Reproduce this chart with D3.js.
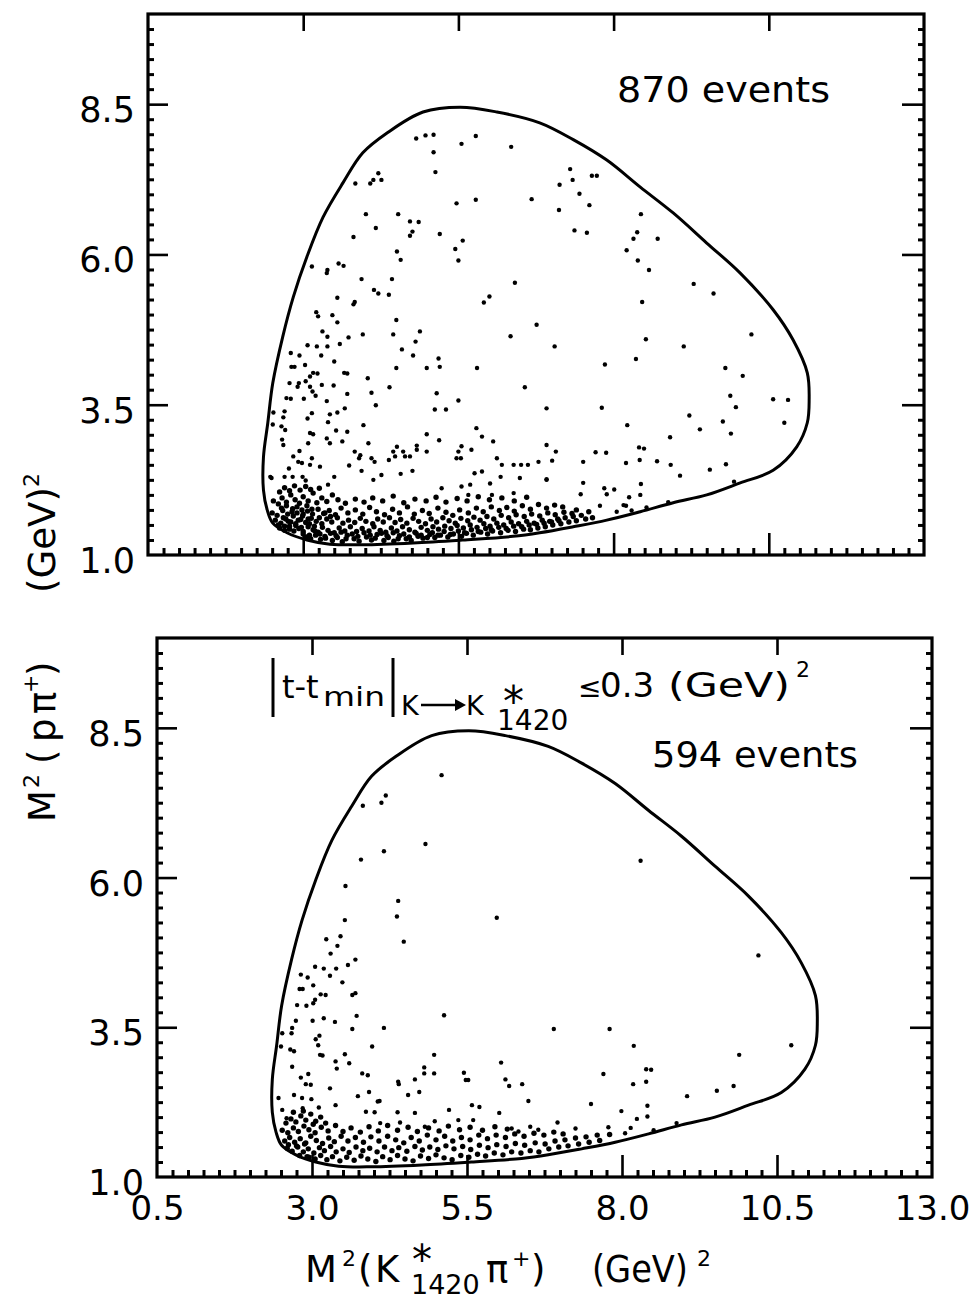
<!DOCTYPE html>
<html>
<head>
<meta charset="utf-8">
<script src="https://cdn.jsdelivr.net/npm/d3@7"></script>
<style>
  body { margin: 0; background: #fff; }
  svg { display: block; }
  text { font-family: "DejaVu Sans", sans-serif; fill: #000; }
</style>
</head>
<body>
<svg id="chart" width="971" height="1299"></svg>
<script>
// Axis ranges and tick labels (GeV^2)
const xDomain = [0.5, 13];
const yDomain = [1, 10];
const xMajorTicks = [3.0, 5.5, 8.0, 10.5];
const yMajorTicks = [3.5, 6.0, 8.5];
const xTickValues = [0.5, 3.0, 5.5, 8.0, 10.5, 13.0];
const xTickLabels = ["0.5", "3.0", "5.5", "8.0", "10.5", "13.0"];
const yTickValues = [1.0, 3.5, 6.0, 8.5];
const yTickLabels = ["1.0", "3.5", "6.0", "8.5"];

// Kinematic boundary of the Dalitz plot: [M2(K*pi+), M2(p pi+)]
const boundary = [
  [5.53,8.45],[4.93,8.37],[4.35,8.02],[3.96,7.69],[3.64,7.19],[3.32,6.62],[3.06,5.96],[2.84,5.29],
  [2.67,4.63],[2.51,3.86],[2.43,3.20],[2.36,2.63],[2.36,2.08],[2.42,1.75],[2.51,1.53],[2.74,1.37],
  [3.06,1.25],[3.43,1.18],[3.96,1.17],[4.77,1.20],[5.57,1.25],[6.38,1.31],[6.81,1.37],[7.35,1.47],
  [7.89,1.58],[8.43,1.72],[8.96,1.87],[9.50,2.00],[10.04,2.20],[10.57,2.41],[10.95,2.80],[11.12,3.20],
  [11.15,3.58],[11.12,4.03],[10.89,4.58],[10.57,5.08],[10.04,5.69],[9.50,6.19],[8.96,6.69],[8.43,7.12],
  [7.89,7.57],[7.35,7.91],[6.81,8.19],[6.12,8.37]
];

// All events: isolated points
const topSparse = [
  [4.82,7.93],[4.97,7.98],[5.10,7.99],[5.78,7.97],[5.10,7.70],[5.55,7.84],[6.35,7.79],[5.13,7.37],[4.21,7.35],[4.13,7.24],
  [4.26,7.24],[4.08,7.18],[3.84,7.18],[6.68,6.92],[5.78,6.91],[5.47,6.85],[4.01,6.67],[4.53,6.67],[4.72,6.55],[4.86,6.54],
  [4.17,6.44],[4.76,6.38],[4.72,6.31],[5.20,6.34],[5.57,6.23],[3.81,6.29],[5.45,6.09],[4.51,6.05],[4.57,5.91],[5.50,5.90],
  [6.41,5.53],[3.57,5.85],[3.65,5.81],[3.14,5.80],[3.39,5.74],[3.38,5.69],[3.94,5.59],[4.43,5.59],[4.14,5.41],[4.21,5.35],
  [4.38,5.33],[3.55,5.28],[3.83,5.21],[3.81,5.17],[6.00,5.30],[5.91,5.20],[3.21,5.04],[3.24,4.97],[3.47,4.99],[3.55,4.87],
  [4.50,4.91],[6.76,4.83],[3.31,4.72],[3.96,4.67],[4.45,4.67],[4.88,4.72],[3.39,4.63],[3.73,4.62],[6.34,4.64],[4.81,4.55],
  [3.07,4.49],[3.22,4.47],[3.39,4.47],[3.59,4.51],[4.59,4.42],[4.77,4.32],[2.80,4.36],[2.94,4.32],[3.29,4.32],[3.50,4.22],
  [5.18,4.27],[2.81,4.13],[2.86,4.13],[3.03,4.16],[5.20,4.13],[4.50,4.11],[4.99,4.11],[5.80,4.11],[3.16,4.03],[3.23,4.02],
  [3.11,3.97],[3.66,4.03],[3.71,4.02],[3.04,3.89],[4.04,3.94],[2.78,3.86],[2.93,3.86],[2.91,3.80],[3.11,3.80],[3.15,3.72],
  [3.30,3.83],[3.49,3.82],[4.39,3.79],[6.57,3.79],[2.80,3.60],[2.73,3.61],[3.01,3.60],[3.20,3.65],[3.38,3.56],[3.71,3.68],
  [4.10,3.70],[5.15,3.69],[5.50,3.57],[4.17,3.49],[3.67,3.44],[2.70,3.39],[2.52,3.37],[3.14,3.36],[3.43,3.34],[3.55,3.37],
  [5.12,3.42],[5.30,3.42],[6.92,3.44],[2.68,3.29],[3.07,3.27],[3.40,3.21],[3.97,3.16],[2.51,3.17],[2.65,3.14],[2.71,3.08],
  [3.11,3.03],[3.16,3.01],[3.53,3.07],[3.71,3.05],[5.79,3.11],[5.88,2.97],[4.99,3.01],[2.66,2.92],[3.08,2.86],[3.38,2.94],
  [3.43,2.86],[3.63,2.89],[4.05,2.86],[4.83,2.82],[5.19,2.91],[6.06,2.89],[6.92,2.83],[5.55,2.81],[2.68,2.83],[2.94,2.73],
  [2.84,2.64],[3.83,2.72],[3.92,2.66],[4.51,2.80],[4.45,2.72],[4.61,2.72],[4.83,2.75],[4.99,2.72],[5.71,2.75],[5.50,2.72],
  [5.47,2.61],[5.54,2.61],[6.12,2.61],[4.38,2.58],[4.48,2.64],[4.64,2.64],[4.72,2.64],[3.90,2.61],[4.10,2.61],[4.15,2.55],
  [3.14,2.61],[2.92,2.55],[2.98,2.53],[3.11,2.50],[3.27,2.47],[2.77,2.44],[3.74,2.49],[6.39,2.50],[6.51,2.50],[6.62,2.50],
  [6.79,2.55],[6.20,2.50],[5.88,2.39],[2.47,2.30],[2.49,2.28],[2.70,2.30],[2.83,2.30],[2.99,2.30],[3.04,2.24],[3.50,2.30],
  [3.94,2.40],[4.13,2.25],[4.26,2.33],[4.57,2.35],[4.76,2.40],[5.76,2.36],[6.18,2.30],[6.49,2.28],[6.92,2.25],[3.40,2.17],
  [5.23,2.11],[5.55,2.14],[5.69,2.17],[6.01,2.19],[6.39,2.03],[6.04,2.00],[5.66,2.00],
  [7.30,7.42],[7.34,7.24],[7.65,7.31],[7.73,7.31],[7.13,7.16],[7.45,7.01],[7.61,6.82],[7.12,6.74],[8.44,6.67],[7.37,6.40],
  [7.57,6.36],[8.38,6.37],[8.32,6.26],[8.71,6.26],[8.21,6.07],[8.39,5.90],[8.57,5.74],[9.29,5.51],[9.61,5.35],[8.46,5.21],
  [10.22,4.67],[8.52,4.59],[7.05,4.47],[9.13,4.47],[8.36,4.26],[7.86,4.17],[9.80,4.11],[10.08,3.98],[9.88,3.65],[9.97,3.46],
  [10.57,3.59],[10.81,3.58],[7.81,3.45],[9.22,3.32],[9.76,3.22],[10.75,3.20],[8.22,3.16],[9.39,3.09],[9.89,3.02],[8.91,2.96],
  [8.41,2.79],[8.49,2.77],[7.07,2.72],[7.71,2.71],[7.88,2.70],[7.01,2.57],[7.51,2.55],[8.20,2.53],[8.42,2.58],[8.70,2.56],
  [8.92,2.50],[9.55,2.42],[9.81,2.51],[9.07,2.32],[6.92,2.26],[7.51,2.20],[8.44,2.18],[7.85,2.11],[8.01,2.09],[7.47,2.01],
  [7.89,2.01],[8.43,2.00],[8.25,1.96],[9.94,2.22],[8.88,1.88],[8.53,1.79],[8.16,1.83],[8.20,1.82],[7.78,1.82],[8.05,1.72],
  [8.29,1.74]
];

// All events: crowded band at low M2(p pi+)
const topDense = [
  [3.05,1.30],[3.12,1.27],[3.20,1.33],[3.28,1.26],[3.35,1.31],[3.47,1.24],[3.55,1.29],[3.63,1.22],[3.71,1.33],[3.82,1.27],
  [3.90,1.23],[4.02,1.30],[4.10,1.25],[4.19,1.34],[4.30,1.24],[4.37,1.29],[4.46,1.23],[4.55,1.32],[4.66,1.27],[4.74,1.24],
  [4.85,1.31],[4.93,1.28],[5.04,1.34],[5.12,1.29],[5.21,1.33],[5.33,1.30],[5.42,1.35],[5.55,1.31],[5.63,1.36],[5.74,1.33],
  [5.86,1.38],[5.97,1.35],[6.05,1.40],[6.18,1.37],[6.30,1.41],[6.42,1.39],[6.55,1.43],[6.66,1.42],[6.78,1.45],[6.90,1.47],
  [7.02,1.50],[7.15,1.52],[7.28,1.55],[7.40,1.57],[7.55,1.60],[7.66,1.62],
  [2.62,1.45],[2.70,1.41],[2.78,1.48],[2.85,1.40],[2.93,1.44],[3.00,1.39],[3.08,1.47],[3.16,1.42],[3.24,1.38],[3.31,1.46],
  [3.40,1.41],[3.50,1.37],[3.58,1.45],[3.67,1.40],[3.76,1.47],[3.86,1.39],[3.95,1.44],[4.06,1.40],[4.14,1.47],[4.24,1.41],
  [4.33,1.38],[4.42,1.45],[4.51,1.40],[4.60,1.47],[4.71,1.42],[4.80,1.38],[4.90,1.46],[5.00,1.41],[5.09,1.47],[5.18,1.43],
  [5.28,1.48],[5.38,1.44],[5.48,1.49],[5.58,1.45],[5.69,1.50],[5.80,1.46],[5.91,1.52],[6.01,1.48],[6.12,1.53],[6.23,1.50],
  [6.35,1.55],[6.47,1.52],[6.60,1.56],[6.72,1.53],[6.85,1.58],[6.97,1.56],[7.10,1.60],[7.22,1.62],[7.35,1.64],[7.48,1.66],
  [2.55,1.58],[2.64,1.53],[2.72,1.60],[2.80,1.55],[2.88,1.52],[2.96,1.59],[3.04,1.54],[3.13,1.61],[3.21,1.56],[3.30,1.52],
  [3.38,1.60],[3.46,1.55],[3.55,1.62],[3.64,1.53],[3.73,1.58],[3.83,1.54],[3.92,1.61],[4.01,1.56],[4.12,1.52],[4.20,1.60],
  [4.29,1.55],[4.39,1.62],[4.48,1.54],[4.57,1.59],[4.67,1.53],[4.77,1.61],[4.86,1.56],[4.97,1.52],[5.06,1.60],[5.15,1.55],
  [5.25,1.62],[5.35,1.57],[5.45,1.53],[5.54,1.61],[5.65,1.57],[5.75,1.63],[5.85,1.58],[5.96,1.64],[6.07,1.60],[6.19,1.66],
  [6.31,1.62],[6.43,1.67],[6.56,1.64],[6.68,1.68],[6.81,1.65],[6.94,1.70],[7.06,1.67],[7.20,1.71],[7.33,1.69],
  [2.50,1.70],[2.58,1.66],[2.67,1.74],[2.75,1.68],[2.83,1.77],[2.90,1.70],[2.99,1.65],[3.07,1.73],[3.15,1.68],[3.24,1.76],
  [3.33,1.69],[3.42,1.74],[3.52,1.67],[3.61,1.78],[3.72,1.70],[3.84,1.75],[3.96,1.68],[4.07,1.79],[4.18,1.72],[4.31,1.67],
  [4.44,1.76],[4.55,1.70],[4.68,1.80],[4.79,1.68],[4.92,1.74],[5.03,1.69],[5.17,1.78],[5.30,1.71],[5.41,1.66],[5.52,1.75],
  [5.66,1.70],[5.79,1.78],[5.90,1.72],[6.03,1.80],[6.16,1.74],[6.28,1.79],[6.40,1.73],[6.53,1.82],[6.66,1.76],[6.79,1.84],
  [6.92,1.78],[7.05,1.83],[7.18,1.80],[7.40,1.75],[7.60,1.72],
  [2.52,1.90],[2.60,1.85],[2.66,1.95],[2.73,1.88],[2.80,2.00],[2.87,1.92],[2.94,1.86],[3.00,1.97],[3.08,1.90],[3.16,2.03],
  [3.22,1.87],[3.30,1.95],[3.38,1.89],[3.47,2.00],[3.56,1.92],[3.68,1.86],[2.62,2.05],[2.70,2.12],[2.78,2.07],[2.86,2.15],
  [2.95,2.08],[3.04,2.14],[3.12,2.09],[3.26,2.11],[3.84,1.93],[3.98,1.88],[4.12,1.95],[4.28,1.90],[4.45,1.98],[4.62,1.87],
  [4.80,1.93],[4.98,1.90],[5.14,1.96],[5.30,1.88],[5.48,1.94],[5.64,1.90],[5.82,1.97],[6.00,1.92],[6.20,1.95],[6.40,1.90],
  [6.60,1.96],
  [2.60,1.50],[2.68,1.62],[2.76,1.56],[2.84,1.65],[2.92,1.58],[3.00,1.68],[3.08,1.60],[2.65,1.78],[2.73,1.82],[2.82,1.72],
  [2.90,1.80],[2.98,1.75],[3.06,1.82],[3.14,1.76],[2.70,1.48],[2.78,1.43],[2.88,1.49],[2.97,1.46],[3.10,1.52],[3.18,1.48],
  [3.26,1.62],[3.35,1.70],[3.44,1.64],
  [3.00,1.35],[3.10,1.33],[3.19,1.40],[3.27,1.35],[3.36,1.28],[3.44,1.36],[3.53,1.32],[3.61,1.38],[3.69,1.27],[3.79,1.35],
  [3.88,1.31],[3.98,1.37],[4.08,1.33],[4.16,1.28],[4.26,1.36],[4.35,1.32],[4.45,1.37],[4.53,1.27],[4.62,1.35],[4.71,1.30],
  [4.82,1.36],[4.90,1.33],[5.00,1.29],[5.08,1.37],[5.17,1.33],[5.27,1.39],[5.37,1.34],[5.50,1.40],[5.60,1.37],[5.71,1.42],
  [5.82,1.39],[5.94,1.44],[6.03,1.42],[6.15,1.46],[6.27,1.44],[6.39,1.48],[6.52,1.47],[6.64,1.50],[6.76,1.51],[6.88,1.53],
  [7.00,1.55],[7.12,1.57]
];

// |t - tmin| <= 0.3 selection: isolated points
const bottomSparse = [
  [5.09,7.71],[3.82,7.20],[4.12,7.25],[4.19,7.37],[4.83,6.56],[4.16,6.44],[3.79,6.30],[3.54,5.86],[4.39,5.61],[4.37,5.35],
  [3.53,5.29],[5.98,5.33],[4.48,4.93],[3.23,4.97],[3.46,5.02],[3.41,4.86],[3.30,4.73],[3.70,4.63],[3.58,4.54],[3.05,4.51],
  [3.19,4.48],[3.39,4.48],[2.82,4.38],[3.29,4.36],[2.93,4.33],[3.49,4.25],[3.02,4.20],[2.80,4.14],[2.85,4.14],[3.14,4.05],
  [3.22,4.04],[3.65,4.04],[3.70,4.07],[3.05,3.96],[3.02,3.90],[2.76,3.87],[2.91,3.86],[3.72,3.69],[5.13,3.70],[2.74,3.61],
  [3.01,3.61],[3.19,3.65],[3.37,3.59],[2.68,3.49],[3.65,3.47],[4.16,3.49],[2.52,3.40],[2.67,3.40],[3.12,3.36],[3.06,3.30],
  [3.10,3.20],[2.50,3.18],[3.97,3.18],[2.65,3.13],[2.71,3.10],[3.13,3.04],[3.17,3.03],[3.53,3.05],[4.97,3.04],[3.38,2.93],
  [3.60,2.90],[6.05,2.91],[2.68,2.84],[3.40,2.81],[4.81,2.83],[3.81,2.73],[3.90,2.70],[4.81,2.73],[4.97,2.73],[5.45,2.74],
  [2.82,2.66],[2.94,2.72],[5.48,2.62],[5.52,2.62],[6.12,2.63],[4.66,2.63],[4.39,2.59],[4.40,2.55],[6.18,2.52],[6.39,2.55],
  [2.90,2.55],[2.98,2.54],[3.29,2.48],[3.92,2.42],[4.73,2.42],[2.46,2.32],[2.71,2.37],[2.84,2.32],[2.99,2.30],[3.74,2.35],
  [4.55,2.37],[4.06,2.26],[4.09,2.27],[6.49,2.27],[3.38,2.20],[5.58,2.20],[5.70,2.17],[2.52,2.12],[2.85,2.15],[3.11,2.16],
  [5.21,2.12],[3.87,2.09],[4.01,2.08],[4.38,2.08],[4.66,2.07],[6.02,2.07],[2.59,1.98],[5.60,1.95],[4.98,1.93],[5.36,1.95],
  [4.42,1.91],[4.10,1.90],[4.82,1.84],[6.52,1.84],[6.33,1.76],[6.22,1.81],[6.65,1.79],
  [8.30,6.28],[10.20,4.70],[6.90,3.47],[7.80,3.47],[8.19,3.19],[10.73,3.20],[9.89,3.04],[8.39,2.80],[8.47,2.79],[7.70,2.72],
  [8.39,2.59],[8.18,2.55],[9.80,2.52],[9.53,2.44],[9.05,2.35],[7.50,2.22],[8.41,2.19],[7.99,2.10],[8.41,2.01],[8.24,1.97],
  [8.88,1.90],[6.96,1.91],[7.78,1.83],[7.25,1.81],[8.51,1.78],[8.14,1.82],[8.05,1.73]
];

// |t - tmin| <= 0.3 selection: crowded band
const bottomDense = [
  [2.95,1.33],[3.05,1.30],[3.14,1.36],[3.24,1.29],[3.33,1.34],[3.45,1.27],[3.56,1.33],[3.68,1.28],[3.79,1.35],[3.90,1.30],
  [4.03,1.26],[4.14,1.34],[4.26,1.29],[4.38,1.36],[4.50,1.30],[4.63,1.27],[4.75,1.35],[4.88,1.31],[5.00,1.37],[5.13,1.32],
  [5.26,1.29],[5.40,1.36],[5.53,1.33],[5.67,1.38],[5.80,1.35],[5.94,1.40],[6.08,1.37],[6.22,1.42],[6.37,1.40],[6.52,1.44],
  [6.66,1.42],[6.82,1.47],[6.98,1.50],[7.13,1.52],[7.30,1.55],[7.47,1.58],[7.64,1.61],
  [2.60,1.48],[2.68,1.43],[2.77,1.50],[2.86,1.42],[2.94,1.47],[3.03,1.40],[3.12,1.49],[3.20,1.44],[3.30,1.51],[3.39,1.42],
  [3.50,1.47],[3.60,1.41],[3.71,1.50],[3.82,1.44],[3.93,1.48],[4.05,1.42],[4.17,1.50],[4.29,1.44],[4.40,1.49],[4.53,1.43],
  [4.66,1.51],[4.78,1.45],[4.90,1.50],[5.03,1.46],[5.16,1.52],[5.29,1.47],[5.43,1.51],[5.56,1.46],[5.70,1.53],[5.84,1.49],
  [5.98,1.54],[6.13,1.51],[6.28,1.56],[6.43,1.53],[6.60,1.57],[6.76,1.55],[6.92,1.60],[7.08,1.62],[7.25,1.65],[7.42,1.67],
  [7.60,1.70],[7.80,1.71],
  [2.56,1.60],[2.64,1.66],[2.72,1.58],[2.81,1.64],[2.90,1.57],[2.98,1.68],[3.07,1.61],[3.17,1.56],[3.27,1.65],[3.36,1.59],
  [3.47,1.68],[3.58,1.60],[3.70,1.66],[3.83,1.58],[3.95,1.67],[4.08,1.60],[4.22,1.68],[4.35,1.62],[4.48,1.57],[4.60,1.66],
  [4.73,1.60],[4.86,1.70],[5.00,1.62],[5.14,1.68],[5.27,1.60],[5.41,1.66],[5.55,1.62],[5.69,1.70],[5.83,1.64],[5.97,1.70],
  [6.12,1.66],[6.27,1.72],[6.42,1.68],[6.58,1.73],[6.74,1.70],[6.90,1.75],[7.05,1.72],
  [2.52,1.78],[2.61,1.74],[2.70,1.82],[2.78,1.76],[2.87,1.85],[2.95,1.79],[3.05,1.74],[3.15,1.83],[3.26,1.77],[3.38,1.86],
  [3.50,1.76],[3.63,1.82],[3.78,1.75],[3.92,1.84],[4.07,1.77],[4.22,1.86],[4.38,1.78],[4.55,1.83],[4.70,1.76],[4.88,1.82],
  [5.05,1.77],[5.20,1.85],[5.38,1.79],[5.55,1.83],[5.75,1.78],[5.95,1.84],[6.15,1.80],
  [2.58,1.90],[2.66,1.97],[2.74,1.92],[2.82,2.02],[2.90,1.95],[2.98,2.05],[3.06,1.93],[3.14,2.00],[3.22,1.90],[2.70,2.08],
  [2.86,2.10],[3.02,1.88],[2.62,1.54],[2.75,1.52],[2.88,1.55],[2.80,1.36],[2.92,1.34]
];

const panels = [
  { left: 148, right: 924, top: 14, bottom: 555,
    sparse: topSparse, dense: topDense, count: "870 events", countX: 617, countY: 102, countW: 213, xLabels: false },
  { left: 157, right: 932, top: 638, bottom: 1177,
    sparse: bottomSparse, dense: bottomDense, count: "594 events", countX: 652, countY: 767, countW: 206, xLabels: true }
];

const svg = d3.select("#chart");
svg.append("rect").attr("width", 971).attr("height", 1299).attr("fill", "#fff");

const xMinor = d3.range(3, 52).map(i => i * 0.25).filter(v => !xMajorTicks.includes(v));
const yMinor = d3.range(5, 40).map(i => i * 0.25).filter(v => !yMajorTicks.includes(v));

function tickAxis(g, axis, width) {
  g.call(axis);
  g.select(".domain").remove();
  g.selectAll(".tick line").attr("stroke", "#000").attr("stroke-width", width);
  g.selectAll(".tick text").remove();
}

panels.forEach(p => {
  const x = d3.scaleLinear().domain(xDomain).range([p.left, p.right]);
  const y = d3.scaleLinear().domain(yDomain).range([p.bottom, p.top]);
  const g = svg.append("g");

  // frame
  g.append("rect")
    .attr("x", p.left).attr("y", p.top)
    .attr("width", p.right - p.left).attr("height", p.bottom - p.top)
    .attr("fill", "none").attr("stroke", "#000").attr("stroke-width", 3.2);

  // inward ticks on all four sides
  tickAxis(g.append("g").attr("transform", `translate(0,${p.bottom})`),
    d3.axisBottom(x).tickValues(xMinor).tickSize(-7).tickFormat(""), 3);
  tickAxis(g.append("g").attr("transform", `translate(0,${p.bottom})`),
    d3.axisBottom(x).tickValues(xMajorTicks).tickSize(-22).tickFormat(""), 2.6);
  tickAxis(g.append("g").attr("transform", `translate(0,${p.top})`),
    d3.axisTop(x).tickValues(xMajorTicks).tickSize(-17).tickFormat(""), 2.6);
  tickAxis(g.append("g").attr("transform", `translate(${p.left},0)`),
    d3.axisLeft(y).tickValues(yMinor).tickSize(-6).tickFormat(""), 3);
  tickAxis(g.append("g").attr("transform", `translate(${p.left},0)`),
    d3.axisLeft(y).tickValues(yMajorTicks).tickSize(-20).tickFormat(""), 2.6);
  tickAxis(g.append("g").attr("transform", `translate(${p.right},0)`),
    d3.axisRight(y).tickValues(yMinor).tickSize(-6).tickFormat(""), 3);
  tickAxis(g.append("g").attr("transform", `translate(${p.right},0)`),
    d3.axisRight(y).tickValues(yMajorTicks).tickSize(-22).tickFormat(""), 2.6);

  // y tick labels
  const yl = g.append("g").attr("transform", `translate(${p.left},0)`)
    .call(d3.axisLeft(y).tickValues(yTickValues).tickFormat((d, i) => yTickLabels[i]).tickSize(0).tickPadding(13));
  yl.select(".domain").remove();
  yl.selectAll(".tick text").attr("font-size", 35).attr("dy", "0.5em")
    .attr("font-family", "DejaVu Sans").attr("fill", "#000");

  // x tick labels (lower panel only)
  if (p.xLabels) {
    const xl = g.append("g").attr("transform", `translate(0,${p.bottom})`)
      .call(d3.axisBottom(x).tickValues(xTickValues).tickFormat((d, i) => xTickLabels[i]).tickSize(0).tickPadding(19));
    xl.select(".domain").remove();
    xl.selectAll(".tick text").attr("font-size", 34)
      .attr("font-family", "DejaVu Sans").attr("fill", "#000");
  }

  // phase-space boundary
  const line = d3.line().x(d => x(d[0])).y(d => y(d[1])).curve(d3.curveCatmullRomClosed.alpha(0.5));
  g.append("path").datum(boundary).attr("d", line)
    .attr("fill", "none").attr("stroke", "#000").attr("stroke-width", 3);

  // events
  g.append("g").selectAll("circle").data(p.sparse).join("circle")
    .attr("cx", d => x(d[0])).attr("cy", d => y(d[1])).attr("r", 2.2).attr("fill", "#000");
  g.append("g").selectAll("circle").data(p.dense).join("circle")
    .attr("cx", d => x(d[0])).attr("cy", d => y(d[1])).attr("r", 2.7).attr("fill", "#000");

  // event count
  g.append("text").attr("x", p.countX).attr("y", p.countY)
    .attr("font-size", 35).attr("textLength", p.countW).attr("lengthAdjust", "spacingAndGlyphs")
    .text(p.count);
});

// builds one text element from absolutely placed pieces
function pieces(parent, parts) {
  const t = parent.append("text");
  parts.forEach(q => {
    const s = t.append("tspan").attr("x", q.x).attr("y", q.y).attr("font-size", q.size).text(q.s);
    if (q.w) s.attr("textLength", q.w).attr("lengthAdjust", "spacingAndGlyphs");
  });
  return t;
}

// selection cut in the lower panel: |t - tmin|_{K->K*1420} <= 0.3 (GeV)^2
const cut = svg.append("g");
[273, 393].forEach(xx => cut.append("line").attr("x1", xx).attr("x2", xx).attr("y1", 658).attr("y2", 717)
  .attr("stroke", "#000").attr("stroke-width", 3));
cut.append("line").attr("x1", 421).attr("x2", 458).attr("y1", 705).attr("y2", 705)
  .attr("stroke", "#000").attr("stroke-width", 2.5);
cut.append("path").attr("d", "M455,699 L466,705 L455,711 Z").attr("fill", "#000");
pieces(cut, [
  { s: "t-t", x: 282, y: 698, size: 32 },
  { s: "min", x: 323, y: 706, size: 26, w: 62 },
  { s: "K", x: 401, y: 715, size: 27 },
  { s: "K", x: 466, y: 715, size: 27 },
  { s: "*", x: 503, y: 716, size: 42 },
  { s: "1420", x: 497, y: 730, size: 28 },
  { s: "≤", x: 578, y: 697, size: 28 },
  { s: "0.3", x: 600, y: 697, size: 34 },
  { s: "(GeV)", x: 668, y: 697, size: 34, w: 122 },
  { s: "2", x: 796, y: 677, size: 22 }
]);

// x-axis title: M^2(K*1420 pi+)   (GeV)^2
pieces(svg, [
  { s: "M", x: 305, y: 1282, size: 37 },
  { s: "2", x: 342, y: 1266, size: 22 },
  { s: "(", x: 358, y: 1282, size: 37 },
  { s: "K", x: 375, y: 1282, size: 37 },
  { s: "*", x: 412, y: 1274, size: 40 },
  { s: "1420", x: 411, y: 1294, size: 27 },
  { s: "π", x: 486, y: 1282, size: 37 },
  { s: "+", x: 512, y: 1266, size: 22 },
  { s: ")", x: 531, y: 1282, size: 37 },
  { s: "(GeV)", x: 592, y: 1282, size: 37, w: 96 },
  { s: "2", x: 697, y: 1266, size: 22 }
]);

// y-axis title (rotated): M^2(p pi+)   (GeV)^2
const yt = svg.append("g").attr("transform", "translate(55,822) rotate(-90)");
pieces(yt, [
  { s: "M", x: 0, y: 0, size: 37 },
  { s: "2", x: 34, y: -16, size: 22 },
  { s: "(", x: 58, y: 0, size: 37 },
  { s: "p", x: 80, y: 0, size: 37 },
  { s: "π", x: 108, y: 0, size: 37 },
  { s: "+", x: 129, y: -17, size: 22 },
  { s: ")", x: 146, y: 0, size: 37 },
  { s: "(GeV)", x: 229, y: 0, size: 37, w: 106 },
  { s: "2", x: 335, y: -16, size: 22 }
]);
</script>
</body>
</html>
